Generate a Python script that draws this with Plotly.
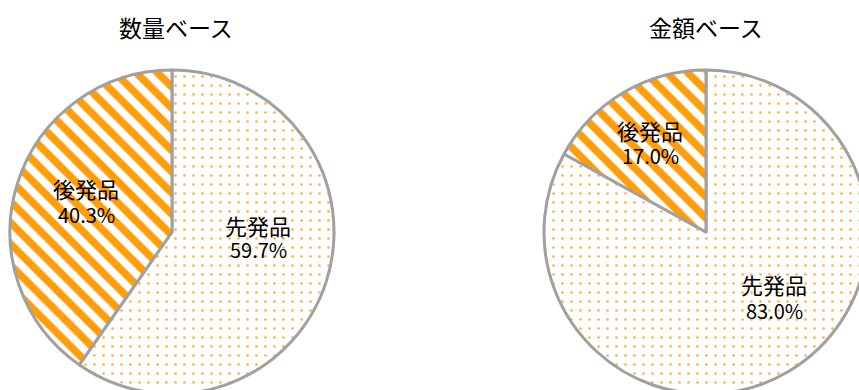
import plotly.graph_objects as go

# 先発品 / 後発品 shares by volume and by value
labels = ["先発品", "後発品"]
volume_share = [59.7, 40.3]
value_share = [83.0, 17.0]
titles = ["数量ベース", "金額ベース"]

W, H = 870, 396
FONT_JP = "Noto Sans CJK JP"
ORANGE = "#FF9D0A"
DOT = "#FFAE3D"
EDGE = "#A0A0A0"

# pie boxes (left, top, diameter) in pixels
pie_boxes = [(10, 70, 324), (544, 70, 324)]
title_x = [176, 706]
# label anchors (x, name-line y, value-line y) in pixels, per slice
label_pts = [
    [(258, 225, 250), (86, 188, 214)],
    [(774, 284, 310), (650, 130, 155)],
]


def dom(x0, y0, d):
    # pixel box (top-left origin) -> paper domain
    return dict(x=[x0 / W, (x0 + d) / W], y=[1 - (y0 + d) / H, 1 - y0 / H])


def text_at(px, py, txt, size):
    fig.add_annotation(
        x=px / W, y=1 - py / H, xref="paper", yref="paper",
        text=txt, showarrow=False, xanchor="center", yanchor="middle",
        font=dict(family=FONT_JP, size=size, color="black"),
    )


patterns = dict(
    shape=[".", "\\"],
    fgcolor=[DOT, ORANGE],
    bgcolor=["white", "white"],
    fgopacity=1,
    size=[9, 15],
    solidity=[0.065, 0.5],
    fillmode="overlay",
)

fig = go.Figure()
for vals, box, pts in zip((volume_share, value_share), pie_boxes, label_pts):
    fig.add_trace(go.Pie(
        labels=labels,
        values=vals,
        sort=False,
        direction="clockwise",
        rotation=0,
        domain=dom(*box),
        marker=dict(colors=["white", "white"], line=dict(color=EDGE, width=3),
                    pattern=patterns),
        textinfo="none",
        showlegend=False,
        hoverinfo="label+value",
    ))
    for lab, v, (px, py1, py2) in zip(labels, vals, pts):
        text_at(px, py1, lab, 22)
        text_at(px, py2, f"{v:.1f}%", 20)

for x, t in zip(title_x, titles):
    text_at(x, 27, t, 23)

fig.update_layout(
    width=W, height=H,
    margin=dict(l=0, r=0, t=0, b=0),
    paper_bgcolor="white",
    plot_bgcolor="white",
)

fig.write_html("out.html")
